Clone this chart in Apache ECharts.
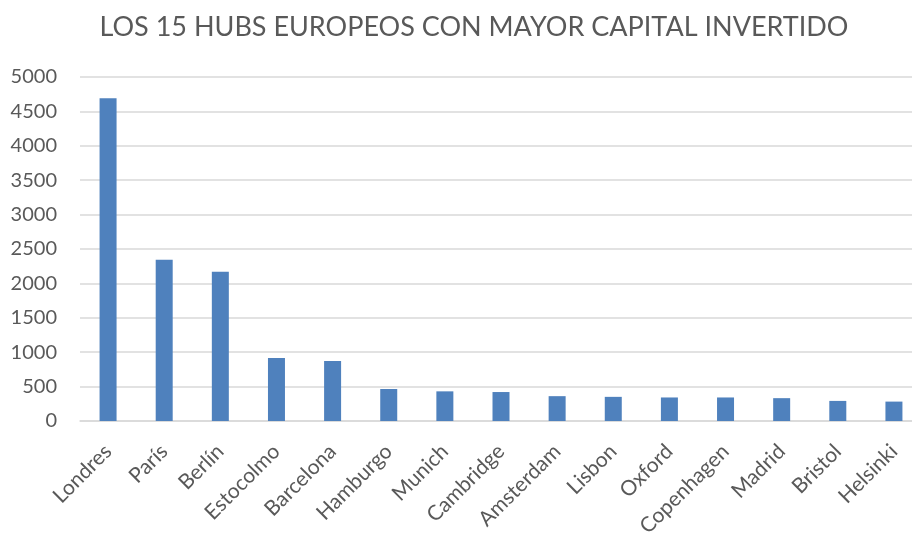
<!DOCTYPE html>
<html>
<head>
<meta charset="utf-8">
<script src="https://cdn.jsdelivr.net/npm/echarts@6/dist/echarts.min.js"></script>
<style>
  html, body { margin: 0; padding: 0; background: #fff; }
  #chart { width: 912px; height: 537px; }
</style>
</head>
<body>
<div id="chart"></div>
<script>
// datos
const ciudades = ['Londres', 'París', 'Berlín', 'Estocolmo', 'Barcelona', 'Hamburgo', 'Munich',
  'Cambridge', 'Amsterdam', 'Lisbon', 'Oxford', 'Copenhagen', 'Madrid', 'Bristol', 'Helsinki'];
const capital = [4690, 2345, 2170, 917, 871, 465, 431, 421, 361, 351, 342, 342, 332, 292, 282];
const titulo = 'LOS 15 HUBS EUROPEOS CON MAYOR CAPITAL INVERTIDO';

const chart = echarts.init(document.getElementById('chart'));
chart.setOption({
  animation: false,
  backgroundColor: '#fff',
  textStyle: { fontFamily: 'Lato' },
  title: {
    text: titulo,
    left: 469,
    top: 9,
    textAlign: 'center',
    textStyle: { fontFamily: 'Lato', fontSize: 27, fontWeight: 'normal', color: '#595959' }
  },
  grid: { left: 80, right: -10, top: 77, bottom: 116, containLabel: false, outerBoundsMode: 'none' },
  xAxis: {
    type: 'category',
    data: ciudades,
    axisLine: { lineStyle: { color: '#d9d9d9', width: 1.5 } },
    axisTick: { show: false },
    axisLabel: {
      rotate: 45,
      interval: 0,
      margin: 27,
      fontSize: 21,
      color: '#595959',
      fontFamily: 'Lato'
    }
  },
  yAxis: {
    type: 'value',
    min: 0,
    max: 5000,
    interval: 500,
    axisLine: { show: false },
    axisTick: { show: false },
    splitLine: { lineStyle: { color: '#d9d9d9', width: 1.5 } },
    axisLabel: {
      fontSize: 20,
      color: '#595959',
      margin: 23,
      fontFamily: 'Lato',
      formatter: function (v) { return String(v); }
    }
  },
  series: [{
    type: 'bar',
    data: capital,
    barWidth: 17,
    itemStyle: { color: '#4f81bd' }
  }]
});
</script>
</body>
</html>
